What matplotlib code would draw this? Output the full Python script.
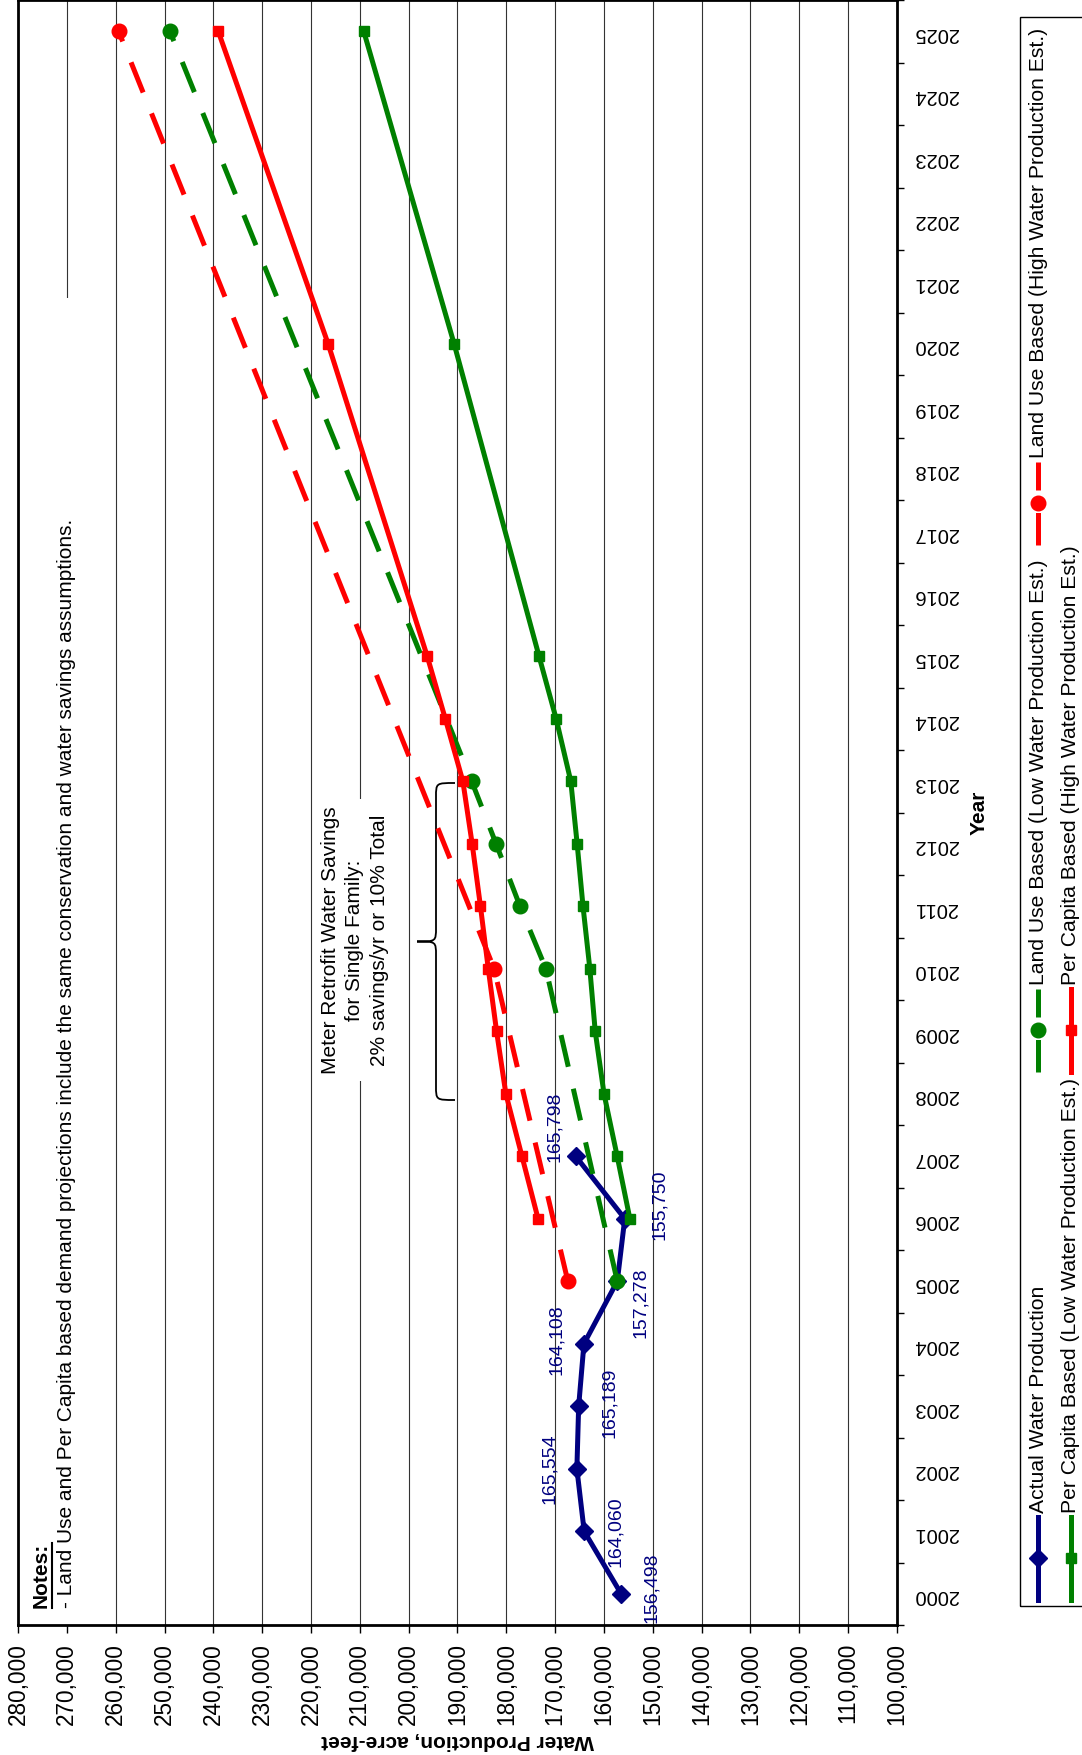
import matplotlib.pyplot as plt
from matplotlib.lines import Line2D
from matplotlib.patches import Rectangle, PathPatch
from matplotlib.path import Path
import numpy as np

plt.rcParams['font.family'] = ['Liberation Sans', 'DejaVu Sans']

W, H = 1082, 1755

# Water production, acre-feet
years = list(range(2000, 2026))

actual_years = [2000, 2001, 2002, 2003, 2004, 2005, 2006, 2007]
actual = [156498, 164060, 165554, 165189, 164108, 157278, 155750, 165798]

land_use_low_years = [2005, 2010, 2011, 2012, 2013, 2025]
land_use_low = [157278, 171900, 177200, 182100, 187100, 248900]

land_use_high_years = [2005, 2010, 2025]
land_use_high = [167400, 182500, 259400]

per_capita_years = [2006, 2007, 2008, 2009, 2010, 2011, 2012, 2013, 2014, 2015,
                    2020, 2025]
per_capita_low = [154700, 157300, 160000, 161800, 162900, 164300, 165500,
                  166800, 169800, 173300, 190700, 209200]
per_capita_high = [173500, 176800, 180100, 182000, 183700, 185300, 187000,
                   188900, 192500, 196200, 216500, 239000]

series_names = ['Actual Water Production',
                'Land Use Based (Low Water Production Est.)',
                'Land Use Based (High Water Production Est.)',
                'Per Capita Based (Low Water Production Est.)',
                'Per Capita Based (High Water Production Est.)']

NAVY, GREEN, RED = '#000080', '#008000', '#FF0000'
LW = 3.6
DASH = (6.5, 4.5)
styles = [
    dict(color=NAVY, marker='D', ms=9.5, dashes=None),
    dict(color=GREEN, marker='o', ms=10.5, dashes=DASH),
    dict(color=RED, marker='o', ms=10.5, dashes=DASH),
    dict(color=GREEN, marker='s', ms=7.5, dashes=None),
    dict(color=RED, marker='s', ms=7.5, dashes=None),
]

# page is laid out sideways: values run right-to-left, years bottom-to-top
AX_L, AX_R, AX_T, AX_B = 18, 897, 0, 1625

fig = plt.figure(figsize=(W / 100, H / 100), dpi=100)
ax = fig.add_axes([AX_L / W, 1 - AX_B / H, (AX_R - AX_L) / W, (AX_B - AX_T) / H])


def axes_xy(px, py):
    return ((px - AX_L) / (AX_R - AX_L), (AX_B - py) / (AX_B - AX_T))


def draw_series(xs, ys, st, z):
    kw = dict(color=st['color'], lw=LW, marker=st['marker'], ms=st['ms'],
              mec=st['color'], mfc=st['color'], zorder=z)
    if st['dashes']:
        kw['dashes'] = st['dashes']
    ax.plot(xs, ys, **kw)


data = [(actual, actual_years), (land_use_low, land_use_low_years),
        (land_use_high, land_use_high_years), (per_capita_low, per_capita_years),
        (per_capita_high, per_capita_years)]
for i, ((xs, ys), st) in enumerate(zip(data, styles)):
    draw_series(xs, ys, st, 3 + i)

# value labels on the actual series (offsets in pixels: right, down)
label_offsets = [(30, -6), (31, 0), (-27, 0), (31, -3), (-27, -4), (23, 21),
                 (35, -14), (-21, -29)]
for v, yr, (dx, dy) in zip(actual, actual_years, label_offsets):
    ax.annotate(f'{v:,}', (v, yr), xytext=(dx * 0.72, -dy * 0.72),
                textcoords='offset points', rotation=90, ha='center',
                va='center', color=NAVY, fontsize=14, zorder=9)

ax.set_xlim(280000, 100000)
ax.set_ylim(1999.5, 2025.5)

xt = np.arange(100000, 280001, 10000)
ax.set_xticks(xt)
ax.set_xticklabels([f'{v:,}' for v in xt], rotation=90, fontsize=16.3)
ax.tick_params(axis='x', direction='out', length=5.5, width=1, pad=7.5)
ax.grid(axis='x', color='#333333', lw=0.8)

ax.yaxis.tick_right()
ax.set_yticks(np.arange(1999.5, 2026, 1))
ax.set_yticklabels([])
ax.set_yticks(years, minor=True)
ax.set_yticklabels([str(y) for y in years], minor=True, rotation=180,
                   fontsize=14.5)
ax.tick_params(axis='y', which='major', direction='out', length=5, width=1)
ax.tick_params(axis='y', which='minor', length=0, pad=12)

for s in ax.spines.values():
    s.set_linewidth(2)

ax.set_xlabel('Water Production, acre-feet', rotation=180, fontweight='bold',
              fontsize=15, va='center', ha='center')
ax.xaxis.set_label_coords(0.5, axes_xy(0, 1741)[1])
ax.yaxis.set_label_position('right')
ax.set_ylabel('Year', rotation=90, fontweight='bold', fontsize=15,
              va='center', ha='center')
ax.yaxis.set_label_coords(axes_xy(979, 0)[0], 0.5)

# notes box
nx0, ny0 = axes_xy(AX_L, AX_B)
nx1, ny1 = axes_xy(90, 298)
ax.add_patch(Rectangle((nx0, ny0), nx1 - nx0, ny1 - ny0, transform=ax.transAxes,
                       fc='white', ec='none', zorder=1.8))
notes_title = ax.text(*axes_xy(41, 1608), 'Notes:', transform=ax.transAxes,
                      rotation=90, ha='center', va='bottom', fontsize=15,
                      fontweight='bold', zorder=2.5)
ax.text(*axes_xy(67, 1608),
        '- Land Use and Per Capita based demand projections include the same '
        'conservation and water savings assumptions.',
        transform=ax.transAxes, rotation=90, ha='center', va='bottom',
        fontsize=15, zorder=2.5)

# meter retrofit callout with brace
ax.text(*axes_xy(355, 940),
        'Meter Retrofit Water Savings\nfor Single Family:\n2% savings/yr or 10% Total',
        transform=ax.transAxes, rotation=90, ha='center', va='center',
        multialignment='center', fontsize=15, linespacing=1.35, zorder=2.5,
        bbox=dict(fc='white', ec='none', pad=5))


def brace(x_tip, x_end, y_top, y_bot, r=14):
    xm = (x_tip + x_end) / 2
    yc = (y_top + y_bot) / 2
    pts = [(x_end, y_top), (xm, y_top), (xm, y_top), (xm, y_top + r),
           (xm, yc - r), (xm, yc), (xm, yc), (x_tip, yc),
           (xm, yc), (xm, yc), (xm, yc + r),
           (xm, y_bot - r), (xm, y_bot), (xm, y_bot), (x_end, y_bot)]
    codes = [Path.MOVETO, Path.CURVE4, Path.CURVE4, Path.CURVE4,
             Path.LINETO, Path.CURVE4, Path.CURVE4, Path.CURVE4,
             Path.CURVE4, Path.CURVE4, Path.CURVE4,
             Path.LINETO, Path.CURVE4, Path.CURVE4, Path.CURVE4]
    verts = [axes_xy(px, py) for px, py in pts]
    ax.add_patch(PathPatch(Path(verts, codes), transform=ax.transAxes,
                           fill=False, ec='black', lw=1.3, zorder=2.5))


brace(417, 455, 783, 1100)

# legend, drawn sideways to the right of the chart
fig.add_artist(Rectangle((1020 / W, 1 - 1606 / H), 90 / W, (1606 - 17) / H,
                         transform=fig.transFigure, fill=False, ec='black',
                         lw=1))
legend_slots = [(1038, 1600), (1038, 1072), (1038, 545), (1071, 1600),
                (1071, 1072)]
for name, st, (lx, ly) in zip(series_names, styles, legend_slots):
    seg = Line2D([lx / W, lx / W], [1 - ly / H, 1 - (ly - 83) / H],
                 transform=fig.transFigure, color=st['color'], lw=LW)
    if st['dashes']:
        seg.set_dashes(st['dashes'])
    fig.add_artist(seg)
    fig.add_artist(Line2D([lx / W], [1 - (ly - 42) / H],
                          transform=fig.transFigure, ls='none',
                          marker=st['marker'], ms=st['ms'],
                          color=st['color']))
    fig.text(lx / W, 1 - (ly - 87) / H, name, rotation=90, ha='center',
             va='bottom', fontsize=15.2)

# underline for the notes heading
fig.canvas.draw()
bb = notes_title.get_window_extent()
fig.add_artist(Line2D([(bb.x1 + 1) / W] * 2, [bb.y0 / H, bb.y1 / H],
                      transform=fig.transFigure, color='black', lw=1.5))

fig.savefig('out.png', dpi=100)
